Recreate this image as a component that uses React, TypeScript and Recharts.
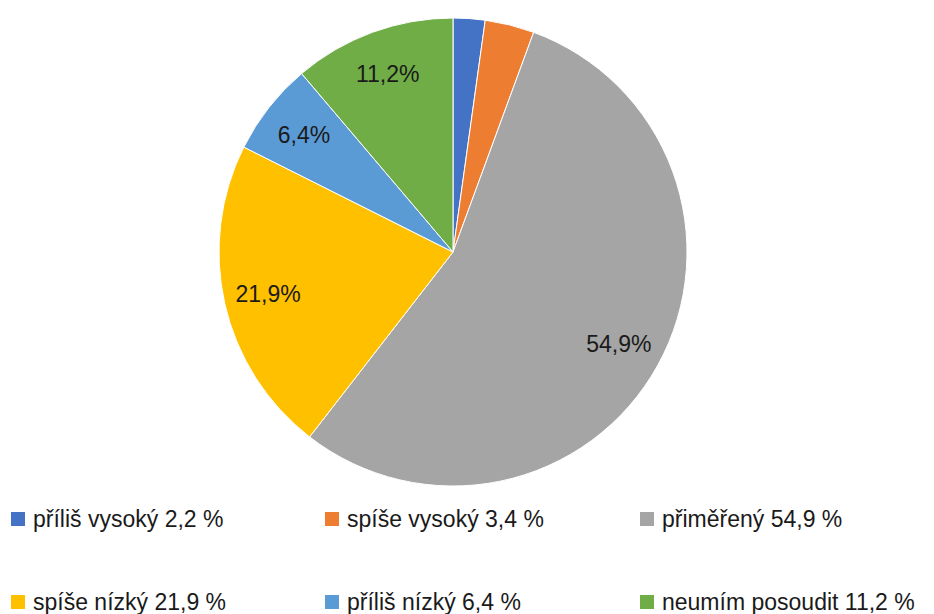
import React from 'react';
import { PieChart, Pie, Cell } from 'recharts';

const categories = ['příliš vysoký', 'spíše vysoký', 'přiměřený', 'spíše nízký', 'příliš nízký', 'neumím posoudit'];
const values = [2.2, 3.4, 54.9, 21.9, 6.4, 11.2];
const colors = ['#4472C4', '#ED7D31', '#A5A5A5', '#FFC000', '#5B9BD5', '#70AD47'];

const data = categories.map((name, i) => ({ name, value: values[i] }));

const fmt = (v: number) => v.toFixed(1).replace('.', ',');

const FONT = '"Liberation Sans", Arial, sans-serif';
const RADIAN = Math.PI / 180;

// Only slices big enough get a label inside
const renderLabel = ({ cx, cy, midAngle, outerRadius, value }: any) => {
  if (value < 5) return null;
  const r = outerRadius * 0.81;
  const x = cx + r * Math.cos(-midAngle * RADIAN);
  const y = cy + r * Math.sin(-midAngle * RADIAN);
  return (
    <text x={x} y={y} textAnchor="middle" dominantBaseline="central" fill="#1a1a1a" fontSize={23} fontFamily={FONT}>
      {fmt(value)}%
    </text>
  );
};

const legendPos = [
  { left: 11, top: 519 },
  { left: 325, top: 519 },
  { left: 640, top: 519 },
  { left: 11, top: 602 },
  { left: 325, top: 602 },
  { left: 640, top: 602 },
];

export default function App() {
  return (
    <div style={{ position: 'absolute', left: 0, top: 0, width: 934, height: 614, background: '#fff', fontFamily: FONT, overflow: 'hidden' }}>
      <PieChart width={934} height={614} margin={{ top: 0, right: 0, bottom: 0, left: 0 }}>
        <Pie
          data={data}
          dataKey="value"
          cx={453}
          cy={252}
          outerRadius={234}
          startAngle={90}
          endAngle={-270}
          stroke="#fff"
          strokeWidth={1}
          label={renderLabel}
          labelLine={false}
          isAnimationActive={false}
        >
          {data.map((d, i) => (
            <Cell key={d.name} fill={colors[i]} />
          ))}
        </Pie>
      </PieChart>
      {data.map((d, i) => (
        <div
          key={d.name}
          style={{
            position: 'absolute',
            left: legendPos[i].left,
            top: legendPos[i].top - 13,
            height: 26,
            display: 'flex',
            alignItems: 'center',
            fontSize: 23,
            color: '#1a1a1a',
            whiteSpace: 'nowrap',
            lineHeight: '26px',
          }}
        >
          <span style={{ display: 'inline-block', width: 14, height: 14, background: colors[i], marginRight: 8 }} />
          {d.name} {fmt(d.value)} %
        </div>
      ))}
    </div>
  );
}
